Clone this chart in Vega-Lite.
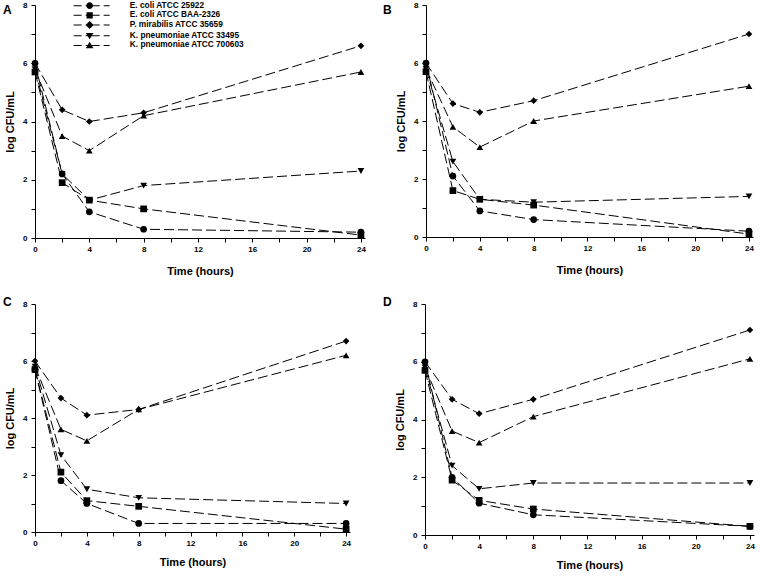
{
  "$schema": "https://vega.github.io/schema/vega-lite/v6.json",
  "padding": {"left": 3, "top": 1, "right": 1, "bottom": 1},
  "background": "white",
  "config": {
    "view": {"stroke": null},
    "font": "Liberation Sans",
    "axis": {
      "domainColor": "black", "tickColor": "black", "labelColor": "black", "titleColor": "black",
      "labelFont": "Liberation Sans", "titleFont": "Liberation Sans",
      "labelFontSize": 8, "labelFontWeight": "bold", "titleFontSize": 11, "titleFontWeight": "bold",
      "grid": false, "tickSize": 4, "labelPadding": 3, "labelOverlap": false, "labelFlush": false
    },
    "axisX": {"titlePadding": 12},
    "axisY": {"titlePadding": 7, "labelPadding": 4},
    "title": {"font": "Liberation Sans", "fontSize": 12, "fontWeight": "bold", "color": "black", "anchor": "start", "frame": "group", "dx": -32, "offset": -16}
  },
  "data": {"values": [
    {"p": "A", "s": "E. coli ATCC 25922", "t": 0, "v": 6.0},
    {"p": "A", "s": "E. coli ATCC 25922", "t": 2, "v": 2.2},
    {"p": "A", "s": "E. coli ATCC 25922", "t": 4, "v": 0.9},
    {"p": "A", "s": "E. coli ATCC 25922", "t": 8, "v": 0.3},
    {"p": "A", "s": "E. coli ATCC 25922", "t": 24, "v": 0.2},
    {"p": "A", "s": "E. coli ATCC BAA-2326", "t": 0, "v": 5.7},
    {"p": "A", "s": "E. coli ATCC BAA-2326", "t": 2, "v": 1.9},
    {"p": "A", "s": "E. coli ATCC BAA-2326", "t": 4, "v": 1.3},
    {"p": "A", "s": "E. coli ATCC BAA-2326", "t": 8, "v": 1.0},
    {"p": "A", "s": "E. coli ATCC BAA-2326", "t": 24, "v": 0.1},
    {"p": "A", "s": "P. mirabilis ATCC 35659", "t": 0, "v": 6.0},
    {"p": "A", "s": "P. mirabilis ATCC 35659", "t": 2, "v": 4.4},
    {"p": "A", "s": "P. mirabilis ATCC 35659", "t": 4, "v": 4.0},
    {"p": "A", "s": "P. mirabilis ATCC 35659", "t": 8, "v": 4.3},
    {"p": "A", "s": "P. mirabilis ATCC 35659", "t": 24, "v": 6.6},
    {"p": "A", "s": "K. pneumoniae ATCC 33495", "t": 0, "v": 5.8},
    {"p": "A", "s": "K. pneumoniae ATCC 33495", "t": 2, "v": 2.2},
    {"p": "A", "s": "K. pneumoniae ATCC 33495", "t": 4, "v": 1.3},
    {"p": "A", "s": "K. pneumoniae ATCC 33495", "t": 8, "v": 1.8},
    {"p": "A", "s": "K. pneumoniae ATCC 33495", "t": 24, "v": 2.3},
    {"p": "A", "s": "K. pneumoniae ATCC 700603", "t": 0, "v": 5.8},
    {"p": "A", "s": "K. pneumoniae ATCC 700603", "t": 2, "v": 3.5},
    {"p": "A", "s": "K. pneumoniae ATCC 700603", "t": 4, "v": 3.0},
    {"p": "A", "s": "K. pneumoniae ATCC 700603", "t": 8, "v": 4.2},
    {"p": "A", "s": "K. pneumoniae ATCC 700603", "t": 24, "v": 5.7},

    {"p": "B", "s": "E. coli ATCC 25922", "t": 0, "v": 6.0},
    {"p": "B", "s": "E. coli ATCC 25922", "t": 2, "v": 2.1},
    {"p": "B", "s": "E. coli ATCC 25922", "t": 4, "v": 0.9},
    {"p": "B", "s": "E. coli ATCC 25922", "t": 8, "v": 0.6},
    {"p": "B", "s": "E. coli ATCC 25922", "t": 24, "v": 0.2},
    {"p": "B", "s": "E. coli ATCC BAA-2326", "t": 0, "v": 5.7},
    {"p": "B", "s": "E. coli ATCC BAA-2326", "t": 2, "v": 1.6},
    {"p": "B", "s": "E. coli ATCC BAA-2326", "t": 4, "v": 1.3},
    {"p": "B", "s": "E. coli ATCC BAA-2326", "t": 8, "v": 1.1},
    {"p": "B", "s": "E. coli ATCC BAA-2326", "t": 24, "v": 0.1},
    {"p": "B", "s": "P. mirabilis ATCC 35659", "t": 0, "v": 6.0},
    {"p": "B", "s": "P. mirabilis ATCC 35659", "t": 2, "v": 4.6},
    {"p": "B", "s": "P. mirabilis ATCC 35659", "t": 4, "v": 4.3},
    {"p": "B", "s": "P. mirabilis ATCC 35659", "t": 8, "v": 4.7},
    {"p": "B", "s": "P. mirabilis ATCC 35659", "t": 24, "v": 7.0},
    {"p": "B", "s": "K. pneumoniae ATCC 33495", "t": 0, "v": 5.8},
    {"p": "B", "s": "K. pneumoniae ATCC 33495", "t": 2, "v": 2.6},
    {"p": "B", "s": "K. pneumoniae ATCC 33495", "t": 4, "v": 1.3},
    {"p": "B", "s": "K. pneumoniae ATCC 33495", "t": 8, "v": 1.2},
    {"p": "B", "s": "K. pneumoniae ATCC 33495", "t": 24, "v": 1.4},
    {"p": "B", "s": "K. pneumoniae ATCC 700603", "t": 0, "v": 5.8},
    {"p": "B", "s": "K. pneumoniae ATCC 700603", "t": 2, "v": 3.8},
    {"p": "B", "s": "K. pneumoniae ATCC 700603", "t": 4, "v": 3.1},
    {"p": "B", "s": "K. pneumoniae ATCC 700603", "t": 8, "v": 4.0},
    {"p": "B", "s": "K. pneumoniae ATCC 700603", "t": 24, "v": 5.2},

    {"p": "C", "s": "E. coli ATCC 25922", "t": 0, "v": 5.7},
    {"p": "C", "s": "E. coli ATCC 25922", "t": 2, "v": 1.8},
    {"p": "C", "s": "E. coli ATCC 25922", "t": 4, "v": 1.0},
    {"p": "C", "s": "E. coli ATCC 25922", "t": 8, "v": 0.3},
    {"p": "C", "s": "E. coli ATCC 25922", "t": 24, "v": 0.3},
    {"p": "C", "s": "E. coli ATCC BAA-2326", "t": 0, "v": 5.7},
    {"p": "C", "s": "E. coli ATCC BAA-2326", "t": 2, "v": 2.1},
    {"p": "C", "s": "E. coli ATCC BAA-2326", "t": 4, "v": 1.1},
    {"p": "C", "s": "E. coli ATCC BAA-2326", "t": 8, "v": 0.9},
    {"p": "C", "s": "E. coli ATCC BAA-2326", "t": 24, "v": 0.1},
    {"p": "C", "s": "P. mirabilis ATCC 35659", "t": 0, "v": 6.0},
    {"p": "C", "s": "P. mirabilis ATCC 35659", "t": 2, "v": 4.7},
    {"p": "C", "s": "P. mirabilis ATCC 35659", "t": 4, "v": 4.1},
    {"p": "C", "s": "P. mirabilis ATCC 35659", "t": 8, "v": 4.3},
    {"p": "C", "s": "P. mirabilis ATCC 35659", "t": 24, "v": 6.7},
    {"p": "C", "s": "K. pneumoniae ATCC 33495", "t": 0, "v": 5.8},
    {"p": "C", "s": "K. pneumoniae ATCC 33495", "t": 2, "v": 2.7},
    {"p": "C", "s": "K. pneumoniae ATCC 33495", "t": 4, "v": 1.5},
    {"p": "C", "s": "K. pneumoniae ATCC 33495", "t": 8, "v": 1.2},
    {"p": "C", "s": "K. pneumoniae ATCC 33495", "t": 24, "v": 1.0},
    {"p": "C", "s": "K. pneumoniae ATCC 700603", "t": 0, "v": 5.8},
    {"p": "C", "s": "K. pneumoniae ATCC 700603", "t": 2, "v": 3.6},
    {"p": "C", "s": "K. pneumoniae ATCC 700603", "t": 4, "v": 3.2},
    {"p": "C", "s": "K. pneumoniae ATCC 700603", "t": 8, "v": 4.3},
    {"p": "C", "s": "K. pneumoniae ATCC 700603", "t": 24, "v": 6.2},

    {"p": "D", "s": "E. coli ATCC 25922", "t": 0, "v": 6.0},
    {"p": "D", "s": "E. coli ATCC 25922", "t": 2, "v": 2.0},
    {"p": "D", "s": "E. coli ATCC 25922", "t": 4, "v": 1.1},
    {"p": "D", "s": "E. coli ATCC 25922", "t": 8, "v": 0.7},
    {"p": "D", "s": "E. coli ATCC 25922", "t": 24, "v": 0.3},
    {"p": "D", "s": "E. coli ATCC BAA-2326", "t": 0, "v": 5.7},
    {"p": "D", "s": "E. coli ATCC BAA-2326", "t": 2, "v": 1.9},
    {"p": "D", "s": "E. coli ATCC BAA-2326", "t": 4, "v": 1.2},
    {"p": "D", "s": "E. coli ATCC BAA-2326", "t": 8, "v": 0.9},
    {"p": "D", "s": "E. coli ATCC BAA-2326", "t": 24, "v": 0.3},
    {"p": "D", "s": "P. mirabilis ATCC 35659", "t": 0, "v": 6.0},
    {"p": "D", "s": "P. mirabilis ATCC 35659", "t": 2, "v": 4.7},
    {"p": "D", "s": "P. mirabilis ATCC 35659", "t": 4, "v": 4.2},
    {"p": "D", "s": "P. mirabilis ATCC 35659", "t": 8, "v": 4.7},
    {"p": "D", "s": "P. mirabilis ATCC 35659", "t": 24, "v": 7.1},
    {"p": "D", "s": "K. pneumoniae ATCC 33495", "t": 0, "v": 5.8},
    {"p": "D", "s": "K. pneumoniae ATCC 33495", "t": 2, "v": 2.4},
    {"p": "D", "s": "K. pneumoniae ATCC 33495", "t": 4, "v": 1.6},
    {"p": "D", "s": "K. pneumoniae ATCC 33495", "t": 8, "v": 1.8},
    {"p": "D", "s": "K. pneumoniae ATCC 33495", "t": 24, "v": 1.8},
    {"p": "D", "s": "K. pneumoniae ATCC 700603", "t": 0, "v": 5.8},
    {"p": "D", "s": "K. pneumoniae ATCC 700603", "t": 2, "v": 3.6},
    {"p": "D", "s": "K. pneumoniae ATCC 700603", "t": 4, "v": 3.2},
    {"p": "D", "s": "K. pneumoniae ATCC 700603", "t": 8, "v": 4.1},
    {"p": "D", "s": "K. pneumoniae ATCC 700603", "t": 24, "v": 6.1}
  ]},
  "spacing": 20,
  "vconcat": [
    {"spacing": 17, "hconcat": [
      {
        "title": {"text": "A"},
        "width": 330, "height": 233,
        "encoding": {
          "x": {"field": "t", "type": "quantitative", "title": "Time (hours)", "scale": {"domain": [0, 24.3], "nice": false}, "axis": {"values": [0,2,4,6,8,10,12,14,16,18,20,22,24], "labelExpr": "datum.value % 4 == 0 ? datum.label : ''"}},
          "y": {"field": "v", "type": "quantitative", "title": "log CFU/mL", "scale": {"domain": [0, 8], "nice": false}, "axis": {"values": [0,1,2,3,4,5,6,7,8], "labelExpr": "datum.value % 2 == 0 ? datum.label : ''"}}
        },
        "layer": [
          {"transform": [{"filter": "datum.p == 'A'"}], "mark": {"type": "line", "color": "black", "strokeWidth": 1, "strokeDash": [10, 4]}, "encoding": {"detail": {"field": "s"}}},
          {"transform": [{"filter": "datum.p == 'A'"}], "mark": {"type": "point", "filled": true, "color": "black", "size": 45, "opacity": 1},
           "encoding": {"shape": {"field": "s", "type": "nominal", "legend": null, "scale": {"domain": ["E. coli ATCC 25922", "E. coli ATCC BAA-2326", "P. mirabilis ATCC 35659", "K. pneumoniae ATCC 33495", "K. pneumoniae ATCC 700603"], "range": ["circle", "square", "diamond", "triangle-down", "triangle-up"]}}}},
          {"transform": [{"filter": "datum.t < 0"}], "mark": {"type": "point", "filled": true, "color": "black", "size": 4, "opacity": 0},
           "encoding": {"shape": {"field": "s", "type": "nominal",
             "scale": {"domain": ["E. coli ATCC 25922", "E. coli ATCC BAA-2326", "P. mirabilis ATCC 35659", "K. pneumoniae ATCC 33495", "K. pneumoniae ATCC 700603"],
               "range": [
                 "M-16,-0.5H-8V0.5H-16Z M-4,-0.5H10V0.5H-4Z M14,-0.5H20V0.5H14Z M-3.3,0A3.3,3.3 0 1,1 3.3,0A3.3,3.3 0 1,1 -3.3,0Z",
                 "M-16,-0.5H-8V0.5H-16Z M-4,-0.5H10V0.5H-4Z M14,-0.5H20V0.5H14Z M-3.1,-3.1H3.1V3.1H-3.1Z",
                 "M-16,-0.5H-8V0.5H-16Z M-4,-0.5H10V0.5H-4Z M14,-0.5H20V0.5H14Z M0,-4L4,0L0,4L-4,0Z",
                 "M-16,-0.5H-8V0.5H-16Z M-4,-0.5H10V0.5H-4Z M14,-0.5H20V0.5H14Z M-3.8,-2.8L3.8,-2.8L0,3.6Z",
                 "M-16,-0.5H-8V0.5H-16Z M-4,-0.5H10V0.5H-4Z M14,-0.5H20V0.5H14Z M0,-3.6L3.8,2.8L-3.8,2.8Z"
               ]},
             "legend": {"orient": "none", "legendX": 50.5, "legendY": -3.5, "title": null, "padding": 0,
               "symbolSize": 4, "symbolOpacity": 1, "symbolFillColor": "black", "symbolStrokeColor": "black", "symbolStrokeWidth": 0,
               "labelFont": "Liberation Sans", "labelFontSize": 8.3, "labelFontWeight": "bold", "labelColor": "black", "labelOffset": 36, "rowPadding": 0.7}}}}
        ],
        "resolve": {"scale": {"shape": "independent"}}
      },
      {
        "title": {"text": "B", "dx": -43},
        "width": 327, "height": 232,
        "transform": [{"filter": "datum.p == 'B'"}],
        "encoding": {
          "x": {"field": "t", "type": "quantitative", "title": "Time (hours)", "scale": {"domain": [0, 24.3], "nice": false}, "axis": {"values": [0,2,4,6,8,10,12,14,16,18,20,22,24], "labelExpr": "datum.value % 4 == 0 ? datum.label : ''"}},
          "y": {"field": "v", "type": "quantitative", "title": "log CFU/mL", "scale": {"domain": [0, 8], "nice": false}, "axis": {"values": [0,1,2,3,4,5,6,7,8], "labelExpr": "datum.value % 2 == 0 ? datum.label : ''"}}
        },
        "layer": [
          {"mark": {"type": "line", "color": "black", "strokeWidth": 1, "strokeDash": [10, 4]}, "encoding": {"detail": {"field": "s"}}},
          {"mark": {"type": "point", "filled": true, "color": "black", "size": 45, "opacity": 1},
           "encoding": {"shape": {"field": "s", "type": "nominal", "legend": null, "scale": {"domain": ["E. coli ATCC 25922", "E. coli ATCC BAA-2326", "P. mirabilis ATCC 35659", "K. pneumoniae ATCC 33495", "K. pneumoniae ATCC 700603"], "range": ["circle", "square", "diamond", "triangle-down", "triangle-up"]}}}}
        ]
      }
    ]},
    {"spacing": 32, "hconcat": [
      {
        "title": {"text": "C", "offset": -9},
        "width": 315, "height": 228,
        "transform": [{"filter": "datum.p == 'C'"}],
        "encoding": {
          "x": {"field": "t", "type": "quantitative", "title": "Time (hours)", "scale": {"domain": [0, 24.3], "nice": false}, "axis": {"values": [0,2,4,6,8,10,12,14,16,18,20,22,24], "labelExpr": "datum.value % 4 == 0 ? datum.label : ''", "titlePadding": 9}},
          "y": {"field": "v", "type": "quantitative", "title": "log CFU/mL", "scale": {"domain": [0, 8], "nice": false}, "axis": {"values": [0,1,2,3,4,5,6,7,8], "labelExpr": "datum.value % 2 == 0 ? datum.label : ''"}}
        },
        "layer": [
          {"mark": {"type": "line", "color": "black", "strokeWidth": 1, "strokeDash": [10, 4]}, "encoding": {"detail": {"field": "s"}}},
          {"mark": {"type": "point", "filled": true, "color": "black", "size": 45, "opacity": 1},
           "encoding": {"shape": {"field": "s", "type": "nominal", "legend": null, "scale": {"domain": ["E. coli ATCC 25922", "E. coli ATCC BAA-2326", "P. mirabilis ATCC 35659", "K. pneumoniae ATCC 33495", "K. pneumoniae ATCC 700603"], "range": ["circle", "square", "diamond", "triangle-down", "triangle-up"]}}}}
        ]
      },
      {
        "title": {"text": "D", "dx": -42, "offset": -9},
        "width": 329, "height": 231,
        "transform": [{"filter": "datum.p == 'D'"}],
        "encoding": {
          "x": {"field": "t", "type": "quantitative", "title": "Time (hours)", "scale": {"domain": [0, 24.3], "nice": false}, "axis": {"values": [0,2,4,6,8,10,12,14,16,18,20,22,24], "labelExpr": "datum.value % 4 == 0 ? datum.label : ''", "titlePadding": 9}},
          "y": {"field": "v", "type": "quantitative", "title": "log CFU/mL", "scale": {"domain": [0, 8], "nice": false}, "axis": {"values": [0,1,2,3,4,5,6,7,8], "labelExpr": "datum.value % 2 == 0 ? datum.label : ''"}}
        },
        "layer": [
          {"mark": {"type": "line", "color": "black", "strokeWidth": 1, "strokeDash": [10, 4]}, "encoding": {"detail": {"field": "s"}}},
          {"mark": {"type": "point", "filled": true, "color": "black", "size": 45, "opacity": 1},
           "encoding": {"shape": {"field": "s", "type": "nominal", "legend": null, "scale": {"domain": ["E. coli ATCC 25922", "E. coli ATCC BAA-2326", "P. mirabilis ATCC 35659", "K. pneumoniae ATCC 33495", "K. pneumoniae ATCC 700603"], "range": ["circle", "square", "diamond", "triangle-down", "triangle-up"]}}}}
        ]
      }
    ]}
  ]
}
